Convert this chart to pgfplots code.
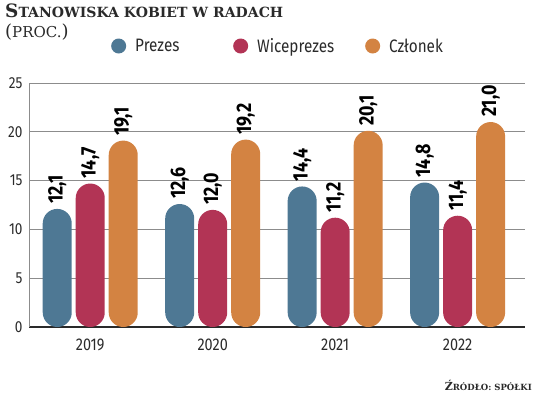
\documentclass[border=0pt]{standalone}
\usepackage{pgfplots}
\pgfplotsset{compat=1.18}
\usepackage{fontspec}
\setmainfont[FakeStretch=0.85]{Fira Sans}
\newfontfamily\titlefont{DejaVu Serif}
\definecolor{cblue}{HTML}{4E7894}
\definecolor{cred}{HTML}{B23455}
\definecolor{corange}{HTML}{D38342}
\definecolor{cgrid}{HTML}{8C8C8C}
\definecolor{ctext}{HTML}{2A2A2A}
\begin{document}
\begin{tikzpicture}
\useasboundingbox (0,0) rectangle (536bp,397bp);
\node[anchor=base west, inner sep=0pt, text=ctext] at (5bp,379bp)
  {\resizebox{278bp}{!}{\titlefont\bfseries\fontsize{21bp}{21bp}\selectfont S\fontsize{16bp}{16bp}\selectfont TANOWISKA KOBIET W RADACH}};
\node[anchor=base west, inner sep=0pt, text=ctext] at (5bp,359bp)
  {\titlefont\fontsize{18bp}{18bp}\selectfont (\fontsize{15bp}{15bp}\selectfont PROC.\fontsize{18bp}{18bp}\selectfont)};
\node[anchor=base east, inner sep=0pt, text=ctext] at (532bp,6bp)
  {\resizebox{87bp}{!}{\titlefont\bfseries\fontsize{13bp}{13bp}\selectfont Ź\fontsize{10bp}{10bp}\selectfont RÓDŁO: SPÓŁKI}};
\begin{axis}[
  at={(29bp,70bp)}, anchor=south west,
  scale only axis, width=496bp, height=244bp,
  ybar=4bp, bar width=29bp,
  xmin=-0.5, xmax=3.55, ymin=0, ymax=25,
  xtick={0,1,2,3}, xticklabels={2019,2020,2021,2022},
  ytick={0,5,10,15,20,25},
  major tick length=0pt,
  axis lines*=left,
  x axis line style={draw=ctext, line width=1.3bp},
  y axis line style={draw=cgrid, line width=0.9bp},
  ymajorgrids, major grid style={draw=cgrid, line width=0.9bp},
  /pgf/number format/assume math mode=true,
  yticklabel style={font=\fontsize{16bp}{16bp}\selectfont, text=ctext, xshift=-3bp},
  xticklabel style={font=\fontsize{17bp}{17bp}\selectfont, text=ctext, yshift=-8bp},
  clip=false,
  nodes near coords,
  nodes near coords style={rotate=90, anchor=west, inner xsep=5bp, inner ysep=0pt, text=black,
     font=\bfseries\fontsize{21bp}{21bp}\selectfont,
     /pgf/number format/.cd, use comma, fixed, fixed zerofill, precision=1, assume math mode=true},
  legend columns=3,
  legend style={at={(0.1653,1.1516)}, anchor=west, draw=none, fill=none, inner sep=0pt,
     font=\fontsize{18bp}{18bp}\selectfont, text=ctext,
     /tikz/every even column/.style={column sep=0pt},
     /tikz/every odd column/.style={column sep=0pt},
     nodes={inner sep=0pt}},
  every axis plot post/.append style={draw=none, rounded corners=14.5bp,
     legend image code/.code={\fill[##1] (7.5bp,0bp) circle (7.5bp);}},
]
\addplot[fill=cblue] coordinates {(0,12.1) (1,12.6) (2,14.4) (3,14.8)};
\addlegendentry{\hspace{9bp}\makebox[98bp][l]{Prezes}}
\addplot[fill=cred] coordinates {(0,14.7) (1,12.0) (2,11.2) (3,11.4)};
\addlegendentry{\hspace{9bp}\makebox[108bp][l]{Wiceprezes}}
\addplot[fill=corange] coordinates {(0,19.1) (1,19.2) (2,20.1) (3,21.0)};
\addlegendentry{\hspace{9bp}Członek}
\end{axis}
\end{tikzpicture}
\end{document}
